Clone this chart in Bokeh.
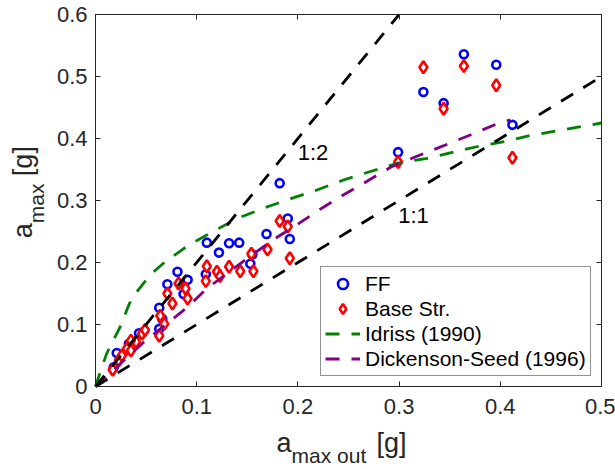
from bokeh.plotting import figure
from bokeh.models import Range1d, FixedTicker, LinearAxis, Label, Legend, LegendItem
from bokeh.embed import file_html
from bokeh.resources import INLINE

# ---------------- data ----------------
ff_x = [0.018, 0.021, 0.033, 0.043, 0.063, 0.066, 0.063, 0.071, 0.081, 0.091,
        0.087, 0.109, 0.110, 0.122, 0.132, 0.142, 0.153, 0.155, 0.169, 0.182,
        0.190, 0.192, 0.299, 0.324, 0.344, 0.364, 0.396, 0.412]
ff_y = [0.031, 0.054, 0.069, 0.086, 0.093, 0.109, 0.127, 0.165, 0.185, 0.172,
        0.149, 0.181, 0.232, 0.216, 0.231, 0.232, 0.198, 0.213, 0.246, 0.328,
        0.271, 0.238, 0.378, 0.475, 0.457, 0.536, 0.519, 0.422]

bs_x = [0.017, 0.023, 0.026, 0.031, 0.035, 0.040, 0.035, 0.046, 0.049, 0.063,
        0.064, 0.068, 0.071, 0.076, 0.082, 0.089, 0.091, 0.109, 0.110, 0.120,
        0.123, 0.132, 0.143, 0.154, 0.156, 0.170, 0.182, 0.190, 0.192, 0.299,
        0.324, 0.344, 0.364, 0.396, 0.412]
bs_y = [0.027, 0.042, 0.050, 0.061, 0.058, 0.072, 0.074, 0.085, 0.091, 0.082,
        0.114, 0.101, 0.150, 0.134, 0.166, 0.158, 0.142, 0.170, 0.194, 0.185,
        0.178, 0.193, 0.186, 0.214, 0.186, 0.221, 0.267, 0.258, 0.207, 0.362,
        0.515, 0.448, 0.517, 0.486, 0.369]

idriss_x = [0, 0.004, 0.011, 0.025, 0.033, 0.038, 0.054, 0.068, 0.092, 0.115,
            0.14, 0.17, 0.193, 0.219, 0.245, 0.27, 0.298, 0.328, 0.354, 0.38,
            0.407, 0.43, 0.5]
idriss_y = [0, 0.02, 0.053, 0.098, 0.132, 0.147, 0.18, 0.2, 0.228, 0.249,
            0.271, 0.29, 0.303, 0.317, 0.333, 0.346, 0.36, 0.368, 0.378, 0.388,
            0.396, 0.405, 0.425]

ds_x = [0, 0.026, 0.048, 0.091, 0.11, 0.152, 0.175, 0.201, 0.224, 0.247,
        0.262, 0.292, 0.32, 0.348, 0.374, 0.397, 0.41]
ds_y = [0, 0.039, 0.072, 0.128, 0.158, 0.209, 0.236, 0.263, 0.288, 0.311,
        0.325, 0.354, 0.373, 0.391, 0.408, 0.424, 0.43]

line11_x = [0, 0.5]
line11_y = [0, 0.5]
line12_x = [0, 0.3]
line12_y = [0, 0.6]

x_lim = (0, 0.5)
y_lim = (0, 0.6)
x_ticks = [0, 0.1, 0.2, 0.3, 0.4, 0.5]
x_tick_labels = ["0", "0.1", "0.2", "0.3", "0.4", "0.5"]
y_ticks = [0, 0.1, 0.2, 0.3, 0.4, 0.5, 0.6]
y_tick_labels = ["0", "0.1", "0.2", "0.3", "0.4", "0.5", "0.6"]

series_names = ["FF", "Base Str.", "Idriss (1990)", "Dickenson-Seed (1996)"]

# ---------------- layout (pixels) ----------------
W, H = 615, 469
BOX_L, BOX_R, BOX_T, BOX_B = 95, 601, 14, 386   # where the axes box sits on the canvas
xs = (x_lim[1] - x_lim[0]) / (BOX_R - BOX_L)
ys = (y_lim[1] - y_lim[0]) / (BOX_B - BOX_T)
x_range = Range1d(x_lim[0] - BOX_L * xs, x_lim[1] + (W - BOX_R) * xs)
y_range = Range1d(y_lim[0] - (H - BOX_B) * ys, y_lim[1] + BOX_T * ys)

FONT = "Liberation Sans"
AX = "#262626"

p = figure(width=W, height=H, x_range=x_range, y_range=y_range,
           output_backend="svg", toolbar_location=None, x_axis_type=None, y_axis_type=None,
           min_border=0, min_border_left=0, min_border_right=0, min_border_top=0, min_border_bottom=0)
p.grid.visible = False
p.outline_line_color = None
p.background_fill_color = "white"

def make_axis(ticks, labels, loc, fixed, bounds):
    ax = LinearAxis(ticker=FixedTicker(ticks=ticks), fixed_location=fixed, bounds=bounds,
                    major_tick_in=5, major_tick_out=0, minor_tick_line_color=None,
                    axis_line_color=AX, axis_line_width=1, major_tick_line_color=AX)
    if labels is None:
        ax.major_label_overrides = {t: "" for t in ticks}
        ax.major_label_text_font_size = "0px"
    else:
        ax.major_label_overrides = {t: l for t, l in zip(ticks, labels)}
        ax.major_label_text_font = FONT
        ax.major_label_text_font_size = "22px"
        ax.major_label_text_color = AX
    p.add_layout(ax, loc)
    return ax

bx = make_axis(x_ticks, x_tick_labels, "below", y_lim[0], x_lim)
bx.major_label_standoff = 12
ly = make_axis(y_ticks, y_tick_labels, "left", x_lim[0], y_lim)
ly.major_label_standoff = 8
make_axis(x_ticks, None, "above", y_lim[1], x_lim)
make_axis(y_ticks, None, "right", x_lim[1], y_lim)

# ---------------- glyphs ----------------
r_ff = p.scatter(ff_x, ff_y, marker="circle", size=8, line_color="#0000ff",
                 fill_color="white", line_width=2.6)
r_bs = p.scatter(bs_x, bs_y, marker="diamond", size=12, line_color="#ff0000",
                 fill_color="white", line_width=2.6)
r_id = p.line(idriss_x, idriss_y, line_color="#008000", line_width=2.8, line_dash="14 12")
r_ds = p.line(ds_x, ds_y, line_color="#800080", line_width=2.8, line_dash="14 12")
p.line(line11_x, line11_y, line_color="black", line_width=2.8, line_dash="14 12")
p.line(line12_x, line12_y, line_color="black", line_width=2.8, line_dash="14 12")

p.add_layout(Label(x=0.2149, y=0.3772, text="1:2", text_font=FONT, text_font_size="22px",
                   text_align="center", text_baseline="middle", text_color="black"))
p.add_layout(Label(x=0.3142, y=0.2763, text="1:1", text_font=FONT, text_font_size="22px",
                   text_align="center", text_baseline="middle", text_color="black"))

# ---------------- axis titles (a with subscript) ----------------
def lab(x, y, text, size, angle=0.0):
    p.add_layout(Label(x=x, y=y, text=text,
                       text_font=FONT, text_font_size=size, text_color=AX,
                       text_align="left", text_baseline="alphabetic", angle=angle))

lab(0.1789, -0.0904, "a", "27px")
lab(0.1937, -0.1114, "max out", "21px")
lab(0.2777, -0.0904, "[g]", "27px")

lab(-0.0712, 0.2391, "a", "27px", 1.5708)
lab(-0.0583, 0.2633, "max", "21px", 1.5708)
lab(-0.0712, 0.3393, "[g]", "27px", 1.5708)

# ---------------- legend ----------------
legend = Legend(items=[LegendItem(label=series_names[0], renderers=[r_ff]),
                       LegendItem(label=series_names[1], renderers=[r_bs]),
                       LegendItem(label=series_names[2], renderers=[r_id]),
                       LegendItem(label=series_names[3], renderers=[r_ds])],
                location=(320, H - 376), margin=0, padding=4, spacing=0,
                glyph_width=35, glyph_height=25, label_height=25, label_standoff=5,
                label_text_font=FONT, label_text_font_size="21px", label_text_color="black",
                border_line_color=AX, border_line_width=1, background_fill_color="white",
                background_fill_alpha=1)
p.add_layout(legend)

open("out.html", "w").write(file_html(p, INLINE))
